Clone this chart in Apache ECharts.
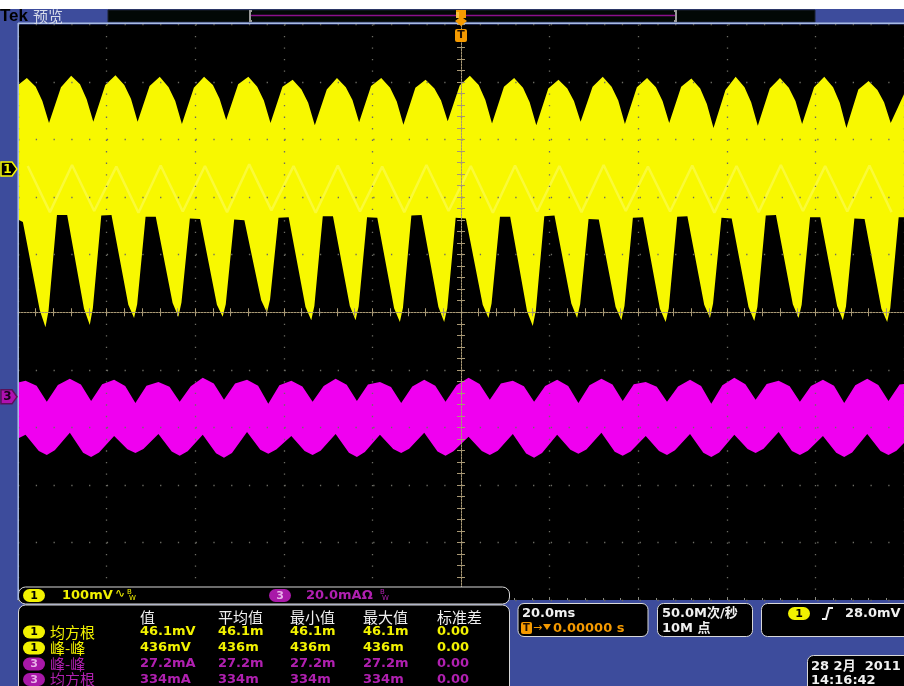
<!DOCTYPE html>
<html>
<head>
<meta charset="utf-8">
<script src="https://cdn.jsdelivr.net/npm/echarts/dist/echarts.min.js"></script>
<style>
html,body{margin:0;padding:0;background:#3d4c9c;}
#scope{width:904px;height:686px;}
</style>
</head>
<body>
<div id="scope"></div>
<script>
// ---- time base: 20 ms/div, 10 divisions, trigger at screen centre ----
const timeMin = -100, timeMax = 100, timeDiv = 20;

// ---- channel 1 (100 mV/div): envelope of the acquired waveform, mV from CH1 ground ----
// upper edge
const ch1PeakT   = [-98,-88,-78,-68,-58,-48,-38,-28,-18,-8,2,12,22,32,42,52,62,72,82,92];
const ch1PeakMv  = [158,162,163,160,160,160,155,158,158,155,162,158,155,160,158,157,160,158,160,153];
const ch1FallT   = [-96,-86,-76,-66,-56,-46,-36,-26,-16,-6,4,14,24,34,44,54,64,74,84,94];
const ch1FallMv  = [143,147,146,142,146,143,138,142,141,140,146,141,140,143,142,140,142,141,142,137];
const ch1Fall2T  = [-94.5,-84.5,-74.5,-64.5,-54.5,-44.5,-34.5,-24.5,-14.5,-4.5,5.5,15.5,25.5,35.5,45.5,55.5,65.5,75.5,85.5,95.5];
const ch1Fall2Mv = [118,121,122,118,122,119,115,120,117,119,120,116,118,119,118,113,116,118,115,116];
const ch1DipT    = [-93,-83,-73,-63,-53,-43,-33,-23,-13,-3,7,17,27,37,47,57,67,77,87,97];
const ch1DipMv   = [80,82,82,78,85,80,76,81,77,83,79,76,82,78,80,71,75,78,71,80];
const ch1RiseT   = [-90.3,-80.3,-70.3,-60.3,-50.3,-40.3,-30.3,-20.3,-10.3,-0.3,9.7,19.7,29.7,39.7,49.7,59.7,69.7,79.7,89.7,99.7];
const ch1RiseMv  = [142,146,144,141,147,143,138,144,141,145,143,140,143,142,143,137,140,142,138,125];
const ch1TopEndsMv = [146, 130];
// lower edge
const ch1NotchRT   = [-98.9,-88.9,-78.9,-68.9,-58.9,-48.9,-38.9,-28.9,-18.9,-8.9,1.1,11.1,21.1,31.1,41.1,51.1,61.1,71.1,81.1,91.1];
const ch1NotchRMv  = [-92,-80,-80,-83,-87,-89,-84,-82,-85,-80,-86,-83,-81,-88,-84,-82,-86,-80,-84,-87];
const ch1EdgeDownT = [-95.1,-85.1,-75.1,-65.1,-55.1,-45.1,-35.1,-25.1,-15.1,-5.1,4.9,14.9,24.9,34.9,44.9,54.9,64.9,74.9,84.9,94.9];
const ch1EdgeDownMv= [-245,-243,-236,-233,-236,-228,-240,-238,-242,-240,-236,-247,-234,-240,-243,-236,-240,-235,-238,-243];
const ch1TipT      = [-93.8,-83.8,-73.8,-63.8,-53.8,-43.8,-33.8,-23.8,-13.8,-3.8,6.2,16.2,26.2,36.2,46.2,56.2,66.2,76.2,86.2,96.2];
const ch1TipMv     = [-275,-271,-259,-257,-257,-250,-263,-263,-266,-266,-259,-273,-259,-263,-266,-259,-264,-259,-263,-266];
const ch1EdgeUpT   = [-93.1,-83.1,-73.1,-63.1,-53.1,-43.1,-33.1,-23.1,-13.1,-3.1,6.9,16.9,26.9,36.9,46.9,56.9,66.9,76.9,86.9,96.9];
const ch1EdgeUpMv  = [-246,-242,-235,-232,-235,-227,-238,-239,-241,-242,-234,-246,-235,-238,-242,-234,-240,-236,-239,-242];
const ch1NotchLT   = [-91.2,-81.2,-71.2,-61.2,-51.2,-41.2,-31.2,-21.2,-11.2,-1.2,8.8,18.8,28.8,38.8,48.8,58.8,68.8,78.8,88.8,98.8];
const ch1NotchLMv  = [-80,-81,-83,-86,-88,-85,-82,-84,-81,-85,-83,-82,-87,-85,-83,-85,-81,-84,-86,-84];
const ch1BottomEndsMv = [-88, -84];

// brighter trace inside the channel 1 envelope
const ch1TraceHiT  = [-97.8,-87.8,-77.8,-67.8,-57.8,-47.8,-37.8,-27.8,-17.8,-7.8,2.2,12.2,22.2,32.2,42.2,52.2,62.2,72.2,82.2,92.2];
const ch1TraceHiMv = [5,7,4,6,5,8,5,6,4,7,5,6,5,7,4,6,5,7,5,6];
const ch1TraceLoT  = [-92.8,-82.8,-72.8,-62.8,-52.8,-42.8,-32.8,-22.8,-12.8,-2.8,7.2,17.2,27.2,37.2,47.2,57.2,67.2,77.2,87.2,97.2];
const ch1TraceLoMv = [-75,-73,-76,-74,-75,-72,-76,-74,-75,-73,-76,-74,-75,-73,-74,-76,-75,-73,-74,-75];

// ---- channel 3 (20 mA/div): envelope, mA from CH3 reference ----
const ch3HighT     = [-98.3,-88.3,-78.3,-68.3,-58.3,-48.3,-38.3,-28.3,-18.3,-8.3,1.7,11.7,21.7,31.7,41.7,51.7,61.7,71.7,81.7,91.7];
const ch3LowT      = [-93.5,-83.5,-73.5,-63.5,-53.5,-43.5,-33.5,-23.5,-13.5,-3.5,6.5,16.5,26.5,36.5,46.5,56.5,66.5,76.5,86.5,96.5];
const ch3TopHighMa = [5.6,6.3,5.9,5.2,6.6,5.9,5.6,6.3,5.2,5.9,6.6,5.6,5.9,6.3,5.2,5.9,6.6,5.6,5.9,6.3];
const ch3TopLowMa  = [-1.7,-1.4,-2.1,-1.7,-1.0,-2.4,-1.7,-1.4,-2.1,-1.7,-1.0,-1.7,-2.1,-1.4,-1.7,-2.4,-1.0,-1.7,-2.1,-1.4];
const ch3TopFallT  = [-95.8,-85.8,-75.8,-65.8,-55.8,-45.8,-35.8,-25.8,-15.8,-5.8,4.2,14.2,24.2,34.2,44.2,54.2,64.2,74.2,84.2,94.2];
const ch3TopFallMa = [3.9,4.3,3.8,3.5,4.6,3.9,3.6,4.2,3.4,3.9,4.5,3.7,3.8,4.3,3.5,3.8,4.4,3.7,3.9,4.1];
const ch3TopRiseT  = [-91,-81,-71,-61,-51,-41,-31,-21,-11,-1,9,19,29,39,49,59,69,79,89,99];
const ch3TopRiseMa = [4.1,4.4,3.9,3.7,4.6,4.0,3.8,4.3,3.6,4.0,4.6,3.8,4.0,4.4,3.6,4.0,4.5,3.8,4.0,4.3];
const ch3BotHighMa = [-13.2,-12.5,-13.6,-12.9,-13.2,-12.2,-13.6,-12.9,-13.2,-12.5,-13.9,-12.9,-13.2,-12.5,-13.6,-12.9,-13.2,-12.2,-13.6,-12.9];
const ch3BotLowMa  = [-20.2,-20.9,-19.5,-20.5,-21.2,-19.8,-20.2,-20.9,-19.5,-20.5,-20.2,-21.2,-19.8,-20.5,-20.2,-20.9,-19.5,-20.2,-20.9,-20.2];
const ch3BotPreT   = [-95.3,-85.3,-75.3,-65.3,-55.3,-45.3,-35.3,-25.3,-15.3,-5.3,4.7,14.7,24.7,34.7,44.7,54.7,64.7,74.7,84.7,94.7];
const ch3BotPreMa  = [-18.8,-19.4,-18.2,-19.0,-19.6,-18.4,-18.8,-19.4,-18.1,-19.0,-18.8,-19.7,-18.4,-19.1,-18.8,-19.4,-18.1,-18.8,-19.4,-18.8];
const ch3BotPostT  = [-91.7,-81.7,-71.7,-61.7,-51.7,-41.7,-31.7,-21.7,-11.7,-1.7,8.3,18.3,28.3,38.3,48.3,58.3,68.3,78.3,88.3,98.3];
const ch3BotPostMa = [-18.6,-19.3,-18.1,-18.9,-19.5,-18.3,-18.7,-19.2,-18.0,-18.9,-18.7,-19.5,-18.3,-19.0,-18.6,-19.3,-18.0,-18.7,-19.3,-18.7];
const ch3TopEndsMa = [5.0, 4.5];
const ch3BotEndsMa = [-14.5, -16.0];

// ---- readouts ----
const measHeaders = ['值','平均值','最小值','最大值','标准差'];
const measRows = [
  {ch:'1', name:'均方根', vals:['46.1mV','46.1m','46.1m','46.1m','0.00']},
  {ch:'1', name:'峰-峰',  vals:['436mV','436m','436m','436m','0.00']},
  {ch:'3', name:'峰-峰',  vals:['27.2mA','27.2m','27.2m','27.2m','0.00']},
  {ch:'3', name:'均方根', vals:['334mA','334m','334m','334m','0.00']}
];
const ch1ScaleText = '100mV';
const ch3ScaleText = '20.0mAΩ';
const horizScaleText = '20.0ms';
const triggerPosText = '0.00000 s';
const sampleRateText = '50.0M次/秒';
const recordLenText = '10M 点';
const triggerLevelText = '28.0mV';
const dateText = '28 2月  2011';
const clockText = '14:16:42';

// ---- display setup ----
const ch1Offset = 2.49, ch1PerDiv = 100;   // divisions above centre, mV per division
const ch3Offset = -1.47, ch3PerDiv = 20;   // divisions above centre, mA per division

const YELLOW = '#f8f800', MAGENTA = '#f000f0';
const FRAME = '#3d4c9c';
const FONT = '"DejaVu Sans", "Noto Sans CJK SC", sans-serif';
const CJK = '"Noto Sans CJK SC", sans-serif';

function zip(ts, vs){ return ts.map((t,i)=>[t, vs[i]]); }
function merge(){ return [].concat.apply([], arguments).sort((p,q)=>p[0]-q[0]); }
function toDiv(pts, off, per){ return pts.map(p=>[p[0], off + p[1]/per]); }
function withEnds(pts, ends){ return [[timeMin, ends[0]]].concat(pts.filter(p=>p[0]>timeMin && p[0]<timeMax), [[timeMax, ends[1]]]); }

const ch1Upper = toDiv(withEnds(merge(zip(ch1PeakT,ch1PeakMv), zip(ch1FallT,ch1FallMv), zip(ch1Fall2T,ch1Fall2Mv),
  zip(ch1DipT,ch1DipMv), zip(ch1RiseT,ch1RiseMv)), ch1TopEndsMv), ch1Offset, ch1PerDiv);
const ch1Lower = toDiv(withEnds(merge(zip(ch1NotchRT,ch1NotchRMv), zip(ch1EdgeDownT,ch1EdgeDownMv), zip(ch1TipT,ch1TipMv),
  zip(ch1EdgeUpT,ch1EdgeUpMv), zip(ch1NotchLT,ch1NotchLMv)), ch1BottomEndsMv), ch1Offset, ch1PerDiv);
const ch1Trace = toDiv(merge(zip(ch1TraceHiT,ch1TraceHiMv), zip(ch1TraceLoT,ch1TraceLoMv)), ch1Offset, ch1PerDiv);

const ch3Upper = toDiv(withEnds(merge(zip(ch3HighT,ch3TopHighMa), zip(ch3TopFallT,ch3TopFallMa), zip(ch3LowT,ch3TopLowMa),
  zip(ch3TopRiseT,ch3TopRiseMa)), ch3TopEndsMa), ch3Offset, ch3PerDiv);
const ch3Lower = toDiv(withEnds(merge(zip(ch3HighT,ch3BotHighMa), zip(ch3BotPreT,ch3BotPreMa), zip(ch3LowT,ch3BotLowMa),
  zip(ch3BotPostT,ch3BotPostMa)), ch3BotEndsMa), ch3Offset, ch3PerDiv);

function bandSeries(upper, lower, color){
  return {
    type:'custom', xAxisIndex:0, yAxisIndex:0, silent:true, z:2,
    data:[[0,0]],
    renderItem:function(params, api){
      const pts = upper.map(p=>api.coord(p)).concat(lower.slice().reverse().map(p=>api.coord(p)));
      return {type:'polygon', shape:{points:pts}, style:{fill:color}};
    }
  };
}

const GRID = {left:18, top:24.5, width:888, height:575.5};
const gridDot = '#6c6c64', centreCol = '#a89874', edgeTick = '#8a8a80';

function centreAxis(pos, showLine){
  return {type:'value', min: pos==='left'||pos==='right' ? -5 : timeMin, max: pos==='left'||pos==='right' ? 5 : timeMax,
    interval: pos==='left'||pos==='right' ? 1 : timeDiv, position:pos, z:6,
    axisLine:{show:showLine, onZero:true, lineStyle:{color:centreCol, width:1, type:[2,1]}},
    axisLabel:{show:false}, splitLine:{show:false},
    axisTick:{show:true, inside:true, length:4, lineStyle:{color:centreCol}},
    minorTick:{show:true, splitNumber:5, length:4, lineStyle:{color:centreCol}}};
}

const chart = echarts.init(document.getElementById('scope'), null, {renderer:'canvas'});

chart.setOption({
  backgroundColor: FRAME,
  animation:false,
  grid:[{left:GRID.left, top:GRID.top, width:GRID.width, height:GRID.height, show:true,
         backgroundColor:'#000', borderWidth:0, containLabel:false}],
  xAxis:[
    {type:'value', min:timeMin, max:timeMax, interval:timeDiv, position:'top', z:5,
     axisLine:{show:false}, axisLabel:{show:false},
     axisTick:{show:true, inside:true, length:3, lineStyle:{color:edgeTick}},
     minorTick:{show:true, splitNumber:5, length:2, lineStyle:{color:edgeTick}},
     splitLine:{show:true, lineStyle:{color:gridDot, width:1.3, type:[1.3, 10.21]}}},
    centreAxis('bottom', true),
    centreAxis('top', false),
    {type:'value', min:timeMin, max:timeMax, interval:timeDiv, position:'bottom', z:5,
     axisLine:{show:false, onZero:false}, axisLabel:{show:false}, splitLine:{show:false},
     axisTick:{show:true, inside:true, length:3, lineStyle:{color:edgeTick}},
     minorTick:{show:true, splitNumber:5, length:2, lineStyle:{color:edgeTick}}}
  ],
  yAxis:[
    {type:'value', min:-5, max:5, interval:1, position:'left', z:5,
     axisLine:{show:false}, axisLabel:{show:false},
     axisTick:{show:true, inside:true, length:3, lineStyle:{color:edgeTick}},
     minorTick:{show:true, splitNumber:5, length:2, lineStyle:{color:edgeTick}},
     splitLine:{show:true, lineStyle:{color:gridDot, width:1.3, type:[1.3, 16.46]}}},
    centreAxis('left', true),
    centreAxis('right', false)
  ],
  series:[
    bandSeries(ch1Upper, ch1Lower, YELLOW),
    {type:'line', xAxisIndex:0, yAxisIndex:0, data:ch1Trace, symbol:'none', silent:true, z:3,
     lineStyle:{color:'rgba(255,255,200,0.28)', width:2.5}},
    bandSeries(ch3Upper, ch3Lower, MAGENTA)
  ]
});

// ---- frame, markers and readout panels ----
const g = [];
function txt(x, y, s, fill, font, align){
  g.push({type:'text', x:x, y:y, z:100, silent:true,
          style:{text:s, fill:fill, font:font, align:align||'left', verticalAlign:'middle'}});
}
function box(x, y, w, h, r, fill, stroke){
  g.push({type:'rect', z:90, silent:true, shape:{x:x, y:y, width:w, height:h, r:r},
          style:{fill:fill, stroke:stroke||null, lineWidth:1}});
}
function pill(x, y, label, fill, color){
  box(x, y-6.5, 22, 13, 6.5, fill);
  txt(x+11, y+0.5, label, color, 'bold 11px ' + FONT, 'center');
}
const VAL = 'bold 13px ' + FONT;

// top strip
box(0, 0, 904, 9, 0, '#ffffff');
box(108, 10, 707, 12, 0, '#020806', '#1b2030');
g.push({type:'line', z:95, shape:{x1:251, y1:15.5, x2:675, y2:15.5}, style:{stroke:'#8c108c', lineWidth:1.5}});
g.push({type:'polyline', z:95, shape:{points:[[252,11],[250,11],[250,21],[252,21]]}, style:{stroke:'#9a9a9a', lineWidth:2, fill:null}});
g.push({type:'polyline', z:95, shape:{points:[[674,11],[676,11],[676,21],[674,21]]}, style:{stroke:'#9a9a9a', lineWidth:2, fill:null}});
txt(0, 16, 'Tek', '#000000', 'bold 17px "Liberation Sans", sans-serif');
txt(33, 16, '预览', '#d6dbe9', '15px ' + CJK);

// frame edges
g.push({type:'line', z:95, shape:{x1:18, y1:23.2, x2:904, y2:23.2}, style:{stroke:'#a8bbe4', lineWidth:1.5}});
g.push({type:'line', z:95, shape:{x1:18.2, y1:23, x2:18.2, y2:600}, style:{stroke:'#a8bbe4', lineWidth:1.5}});

// trigger position indicators
const trigX = chart.convertToPixel({xAxisIndex:0}, 0);
g.push({type:'polygon', z:96, shape:{points:[[trigX-5,10],[trigX+5,10],[trigX+5,18],[trigX+2,18],[trigX+6,21],[trigX,26],[trigX-6,21],[trigX-2,18],[trigX-5,18]]},
        style:{fill:'#f59a00'}});
g.push({type:'rect', z:96, shape:{x:trigX-5, y:12, width:3, height:6}, style:{fill:'#f8c040'}});
box(trigX-6, 29, 12, 13, 2, '#f59a00');
txt(trigX, 35.5, 'T', '#201000', 'bold 11px ' + FONT, 'center');

// channel ground markers on the left edge
function groundMarker(ch, offset, fill, stroke, color){
  const y = chart.convertToPixel({yAxisIndex:0}, offset);
  g.push({type:'polygon', z:96, shape:{points:[[1,y-7],[12,y-7],[17,y],[12,y+7],[1,y+7]]},
          style:{fill:fill, stroke:stroke, lineWidth:1.5}});
  txt(7.5, y+0.5, ch, color, 'bold 12px ' + FONT, 'center');
}
groundMarker('1', ch1Offset, '#000000', YELLOW, YELLOW);
groundMarker('3', ch3Offset, '#b010b0', '#5a105a', '#1a001a');

// channel scale bar
box(18.5, 587, 491, 17, 7, '#000000', '#d8d8d8');
pill(23, 595.5, '1', '#f2f200', '#000');
txt(62, 596, ch1ScaleText, '#f2f200', VAL);
txt(115, 594, '∿', '#f2f200', '12px ' + FONT);
txt(127, 592, 'B', '#f2f200', '7px ' + FONT);
txt(129, 598, 'W', '#f2f200', '7px ' + FONT);
pill(269, 595.5, '3', '#a818a8', '#e8b0e8');
txt(306, 596, ch3ScaleText, '#b020b0', VAL);
txt(380, 592, 'B', '#b020b0', '7px ' + FONT);
txt(382, 598, 'W', '#b020b0', '7px ' + FONT);

// measurement table
box(18.5, 605, 491, 90, [7,7,0,0], '#000000', '#d8d8d8');
const colX = [140, 218, 290, 363, 437];
measHeaders.forEach((h,i)=>txt(colX[i], 617, h, '#f0f0f0', '15px ' + CJK));
const rowY = [632, 648, 664, 679.5];
measRows.forEach((r,i)=>{
  const col = r.ch === '1' ? '#f2f200' : '#b020b0';
  const pf  = r.ch === '1' ? '#f2f200' : '#a818a8';
  pill(23, rowY[i], r.ch, pf, r.ch === '1' ? '#000' : '#e8b0e8');
  txt(50, rowY[i], r.name, col, '15px ' + CJK);
  r.vals.forEach((v,j)=>txt(colX[j], rowY[i], v, col, VAL));
});

// horizontal readout
box(518, 603.5, 130, 33, 6, '#000000', '#d8d8d8');
txt(522, 614, horizScaleText, '#f0f0f0', VAL);
box(521, 622, 11, 12, 2, '#f59a00');
txt(526.5, 628.5, 'T', '#201000', 'bold 10px ' + FONT, 'center');
txt(533, 628, '→', '#f59a00', '11px ' + FONT);
g.push({type:'polygon', z:100, shape:{points:[[543,624],[551,624],[547,630]]}, style:{fill:'#f59a00'}});
txt(553, 628.5, triggerPosText, '#f59a00', VAL);

// acquisition readout
box(657.5, 603.5, 95, 33, 6, '#000000', '#d8d8d8');
txt(662, 614, sampleRateText, '#f0f0f0', VAL);
txt(662, 628.5, recordLenText, '#f0f0f0', VAL);

// trigger readout
box(761.5, 603.5, 160, 33, 6, '#000000', '#d8d8d8');
pill(788, 613.5, '1', '#f2f200', '#000');
g.push({type:'polyline', z:100, shape:{points:[[822,619],[826,619],[829,608],[833,608]]}, style:{stroke:'#f0f0f0', lineWidth:2, fill:null}});
txt(845, 614, triggerLevelText, '#f0f0f0', VAL);

// date and time
box(807.5, 655.5, 120, 40, 6, '#000000', '#d8d8d8');
txt(811, 666.5, dateText, '#f0f0f0', VAL);
txt(811, 681, clockText, '#f0f0f0', VAL);

chart.setOption({graphic:{elements:g}});
</script>
</body>
</html>
